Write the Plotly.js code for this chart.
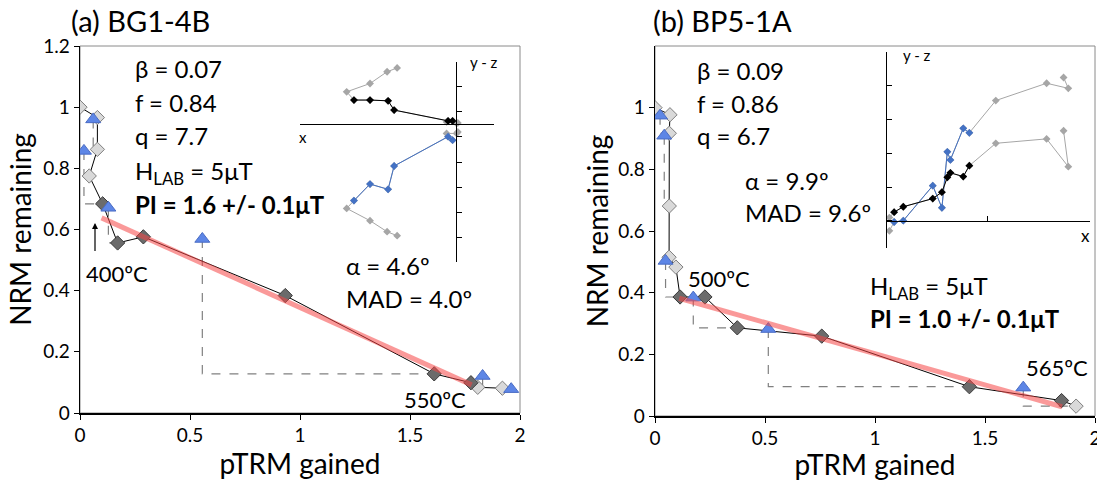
<!DOCTYPE html>
<html>
<head>
<meta charset="utf-8">
<script src="https://cdn.plot.ly/plotly-3.0.1.min.js"></script>
<style>html,body{margin:0;padding:0;background:#fff}#chart{width:1097px;height:481px}</style>
</head>
<body>
<div id="chart"></div>
<script>
// ---------- data: panel (a) BG1-4B ----------
const aDiamondX = [0, 0.079, 0.079, 0.042, 0.103, 0.171, 0.288, 0.933, 1.61, 1.777, 1.808, 1.92];
const aDiamondY = [1.0, 0.966, 0.862, 0.775, 0.684, 0.556, 0.576, 0.384, 0.128, 0.099, 0.084, 0.081];
const aInFit    = [0, 0, 0, 0, 1, 1, 1, 1, 1, 1, 0, 0];
const aCheckX   = [0.06, 0.018, 0.129, 0.556, 1.83, 1.96];
const aCheckY   = [0.96, 0.857, 0.671, 0.569, 0.121, 0.078];
const aCheckRef = [2, 4, 5, 8, 10, -1];
const aFitX = [0.098, 1.78];
const aFitY = [0.638, 0.092];
// inset (a): Zijderveld
const aZx    = [-2.33, -2.73, -3.41, -4.34, -4.05, -3.41, -2.69, -2.45, -0.30, -0.12, -0.36, 0.04, 0.09];
const aZhor  = [2.25, 2.10, 1.63, 1.30, 0.97, 0.97, 0.94, 0.57, 0.14, 0.14, 0.10, 0.04, 0.06];
const aZver  = [-4.44, -4.28, -3.84, -3.35, -3.04, -2.38, -2.59, -1.66, -0.49, -0.63, -0.36, -0.36, -0.30];
const aZfit  = [0, 0, 0, 0, 1, 1, 1, 1, 1, 1, 0, 0, 0];

// ---------- data: panel (b) BP5-1A ----------
const bDiamondX = [0, 0.068, 0.065, 0.065, 0.064, 0.095, 0.114, 0.227, 0.374, 0.758, 1.429, 1.848, 1.914];
const bDiamondY = [1.0, 0.977, 0.917, 0.681, 0.515, 0.483, 0.386, 0.386, 0.286, 0.259, 0.095, 0.050, 0.032];
const bInFit    = [0, 0, 0, 0, 0, 0, 1, 1, 1, 1, 1, 1, 0];
const bCheckX   = [0.023, 0.042, 0.048, 0.174, 0.515, 1.674];
const bCheckY   = [0.974, 0.909, 0.503, 0.384, 0.282, 0.092];
const bCheckRef = [2, 3, 6, 8, 10, 12];
const bFitX = [0.11, 1.85];
const bFitY = [0.382, 0.03];
// inset (b): Zijderveld
const bZx    = [5.24, 5.38, 4.74, 3.24, 2.46, 2.28, 1.90, 1.81, 1.65, 1.38, 0.51, 0.24, 0.10];
const bZver  = [4.23, 3.91, 4.06, 3.55, 2.60, 2.73, 1.80, 2.04, 0.39, 1.04, 0.01, -0.03, -0.29];
const bZhor  = [2.66, 1.60, 2.42, 2.29, 1.63, 1.31, 1.42, 1.29, 0.85, 0.66, 0.42, 0.26, 0.10];
const bZfit  = [0, 0, 0, 0, 1, 1, 1, 1, 1, 1, 1, 1, 0];

// ---------- tick labels & texts ----------
const xTickVals = [0, 0.5, 1, 1.5, 2];
const xTickText = ['0', '0.5', '1', '1.5', '2'];
const aYTickVals = [0, 0.2, 0.4, 0.6, 0.8, 1, 1.2];
const aYTickText = ['0', '0.2', '0.4', '0.6', '0.8', '1', '1.2'];
const bYTickVals = [0, 0.2, 0.4, 0.6, 0.8, 1];
const bYTickText = ['0', '0.2', '0.4', '0.6', '0.8', '1'];
const aStats = ['β = 0.07', 'f = 0.84', 'q = 7.7', 'H<sub>LAB</sub> = 5μT', '<b>PI = 1.6 +/- 0.1μT</b>'];
const aDir = ['α = 4.6º', 'MAD = 4.0º'];
const bStats = ['β = 0.09', 'f = 0.86', 'q = 6.7'];
const bDir = ['α = 9.9º', 'MAD = 9.6º'];
const bPI = ['H<sub>LAB</sub> = 5μT', '<b>PI = 1.0 +/- 0.1μT</b>'];

// ---------- helpers ----------
const W = 1097, H = 481;
const FONT = "Lato, 'Open Sans', sans-serif";
const px = v => v / W;
const py = v => 1 - v / H;
const pick = (arr, flags, f) => arr.filter((_, i) => flags[i] === f);

function checkPath(cx, cy, ref, dx, dy) {
  const X = [], Y = [];
  cx.forEach((x, i) => {
    if (ref[i] < 0) return;
    X.push(x, x, dx[ref[i]], null);
    Y.push(cy[i], dy[ref[i]], dy[ref[i]], null);
  });
  return {X, Y};
}

function araiTraces(dx, dy, fit, cx, cy, cref, fx, fy, xa, ya) {
  const c = checkPath(cx, cy, cref, dx, dy);
  return [
    {x: c.X, y: c.Y, xaxis: xa, yaxis: ya, mode: 'lines', line: {color: '#808080', width: 1.2, dash: 'dash'}, hoverinfo: 'skip'},
    {x: dx, y: dy, xaxis: xa, yaxis: ya, mode: 'lines', line: {color: '#000', width: 1}, hoverinfo: 'skip'},
    {x: pick(dx, fit, 0), y: pick(dy, fit, 0), xaxis: xa, yaxis: ya, mode: 'markers',
     marker: {symbol: 'diamond', size: 11, color: '#d9d9d9', line: {color: '#7f7f7f', width: 1}}},
    {x: pick(dx, fit, 1), y: pick(dy, fit, 1), xaxis: xa, yaxis: ya, mode: 'markers',
     marker: {symbol: 'diamond', size: 11, color: '#6b6b6b', line: {color: '#3a3a3a', width: 1}}},
    {x: cx, y: cy, xaxis: xa, yaxis: ya, mode: 'markers',
     marker: {symbol: 'triangle-up', size: 13, color: '#5d86e6', line: {color: '#4a6cc4', width: 1}}},
    {x: fx, y: fy, xaxis: xa, yaxis: ya, mode: 'lines', line: {color: 'rgba(245,70,70,0.55)', width: 5}, hoverinfo: 'skip'}
  ];
}

function zijTraces(zx, z1, z2, fit, c1, c2, xa, ya) {
  const g = '#a6a6a6';
  return [
    {x: zx, y: z1, xaxis: xa, yaxis: ya, mode: 'lines+markers', line: {color: g, width: 1},
     marker: {symbol: 'diamond', size: 6, color: g}},
    {x: pick(zx, fit, 1), y: pick(z1, fit, 1), xaxis: xa, yaxis: ya, mode: 'lines+markers', line: {color: c1, width: 1},
     marker: {symbol: 'diamond', size: 6, color: c1}},
    {x: zx, y: z2, xaxis: xa, yaxis: ya, mode: 'lines+markers', line: {color: g, width: 1},
     marker: {symbol: 'diamond', size: 6, color: g}},
    {x: pick(zx, fit, 1), y: pick(z2, fit, 1), xaxis: xa, yaxis: ya, mode: 'lines+markers', line: {color: c2, width: 1},
     marker: {symbol: 'diamond', size: 6, color: c2}}
  ];
}

const data = [].concat(
  araiTraces(aDiamondX, aDiamondY, aInFit, aCheckX, aCheckY, aCheckRef, aFitX, aFitY, 'x', 'y'),
  araiTraces(bDiamondX, bDiamondY, bInFit, bCheckX, bCheckY, bCheckRef, bFitX, bFitY, 'x2', 'y2'),
  zijTraces(aZx, aZhor, aZver, aZfit, '#000000', '#4472c4', 'x3', 'y3'),
  zijTraces(bZx, bZver, bZhor, bZfit, '#4472c4', '#000000', 'x4', 'y4')
);

const mainX = (dom, anchor) => ({
  domain: dom, range: [0, 2], anchor: anchor, tickvals: xTickVals, ticktext: xTickText,
  ticks: 'outside', ticklen: 5, tickcolor: '#000', showline: true, linecolor: '#000', linewidth: 1.5,
  showgrid: false, zeroline: false, tickfont: {size: 19, color: '#000'}, ticklabeloverflow: 'allow',
  title: {text: 'pTRM gained', font: {size: 28, color: '#000'}, standoff: 5}
});
const mainY = (dom, anchor, tv, tt, so) => ({
  domain: dom, range: [0, 1.2], anchor: anchor, tickvals: tv, ticktext: tt,
  ticks: 'outside', ticklen: 5, tickcolor: '#000', showline: true, linecolor: '#000', linewidth: 1.5,
  showgrid: false, zeroline: false, tickfont: {size: 19, color: '#000'}, ticklabeloverflow: 'allow',
  title: {text: 'NRM remaining', font: {size: 28, color: '#000'}, standoff: so}
});
const insetAxis = (dom, range, pos, tv) => ({
  domain: dom, range: range, anchor: 'free', position: pos, tickvals: tv,
  ticks: 'inside', ticklen: 5, tickcolor: '#000', showticklabels: false,
  showline: true, linecolor: '#000', linewidth: 1, showgrid: false, zeroline: false
});

const annotations = [];
function txt(t, x, y, size, extra) {
  annotations.push(Object.assign({text: t, x: px(x), y: py(y), xref: 'paper', yref: 'paper',
    xanchor: 'left', yanchor: 'middle', showarrow: false, font: {size: size, color: '#000', family: FONT}}, extra || {}));
}
txt('(a) BG1-4B', 69, 21, 29);
txt('(b) BP5-1A', 651, 21, 29);
const aStatY = [68, 102, 135, 172, 205];
aStats.forEach((t, i) => txt(t, 133, aStatY[i], 24));
aDir.forEach((t, i) => txt(t, 344, [265, 298][i], 24));
txt('400ºC', 84, 273, 22);
txt('550ºC', 402, 399, 22);
const bStatY = [70, 103, 135];
bStats.forEach((t, i) => txt(t, 695, bStatY[i], 24));
bDir.forEach((t, i) => txt(t, 743, [180, 213][i], 24));
bPI.forEach((t, i) => txt(t, 868, [287, 318][i], 24));
txt('500ºC', 686, 278, 22);
txt('565ºC', 1024, 367, 22);
txt('x', 297, 137, 15);
txt('y - z', 468, 62, 15);
txt('y - z', 901, 55, 15);
txt('x', 1079, 235, 17);
annotations.push({x: px(95), y: py(223), xref: 'paper', yref: 'paper', text: ' ', showarrow: true,
  ax: 0, ay: 37, arrowhead: 2, arrowsize: 1, arrowwidth: 1.2, arrowcolor: '#000'});

const frame = (xr, yr) => ({type: 'rect', xref: xr + ' domain', yref: yr + ' domain', x0: 0, x1: 1, y0: 0, y1: 1,
  line: {color: '#8a8a8a', width: 1}, layer: 'below'});

const layout = {
  width: W, height: H, margin: {l: 0, r: 0, t: 0, b: 0}, showlegend: false,
  paper_bgcolor: '#fff', plot_bgcolor: 'rgba(0,0,0,0)',
  font: {family: FONT, color: '#000'},
  xaxis: mainX([px(80), px(520)], 'y'),
  yaxis: mainY([py(413), py(46)], 'x', aYTickVals, aYTickText, 3),
  xaxis2: mainX([px(655), px(1095)], 'y2'),
  yaxis2: mainY([py(416), py(46)], 'x2', bYTickVals, bYTickText, 1),
  xaxis3: insetAxis([px(300), px(494)], [-6.2, 1.53], py(124.3), [-6.2, 1.53]),
  yaxis3: insetAxis([py(262.3), py(61.7)], [-5.5, 2.5], px(455.7), [-5.5, -4.5, -3.5, -2.5, -1.5, -0.5, 0.5, 1.5, 2.5]),
  xaxis4: insetAxis([px(886), px(1090)], [0, 6.02], py(221), [3, 6.02]),
  yaxis4: insetAxis([py(248.3), py(51.7)], [-0.805, 4.99], px(886), [0, 1, 2, 3, 4, 4.99]),
  shapes: [frame('x', 'y'), frame('x2', 'y2')],
  annotations: annotations
};

Plotly.newPlot('chart', data, layout, {displayModeBar: false, staticPlot: true});
</script>
</body>
</html>
